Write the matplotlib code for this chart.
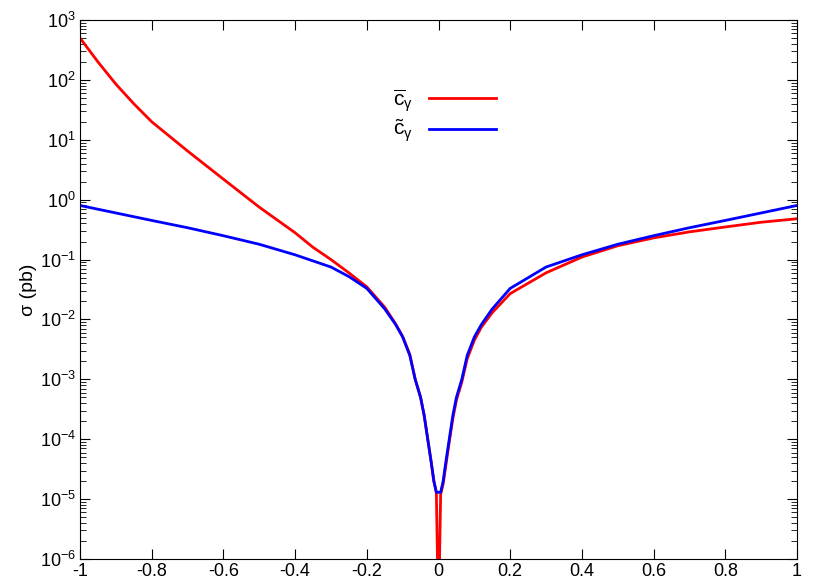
import matplotlib
matplotlib.use("Agg")
import matplotlib.pyplot as plt
import numpy as np

plt.rcParams['font.family'] = 'Liberation Sans'
plt.rcParams['mathtext.fontset'] = 'custom'
plt.rcParams['mathtext.rm'] = 'Liberation Sans'
plt.rcParams['mathtext.it'] = 'Liberation Sans'

x_red = [-1,-0.95,-0.9,-0.85,-0.8,-0.7,-0.6,-0.5,-0.4,-0.35,-0.3,-0.25,-0.2,-0.15,-0.12,-0.1,-0.08,-0.065,-0.05,-0.04,-0.03,-0.02,-0.013,-0.006,0,
         0.006,0.013,0.02,0.03,0.04,0.05,0.065,0.08,0.1,0.12,0.15,0.2,0.3,0.4,0.5,0.6,0.7,0.8,0.9,1]
y_red = [500,200,85,40,20,6.5,2.2,0.75,0.28,0.16,0.1,0.06,0.035,0.016,0.0085,0.0052,0.0026,0.001,5e-4,2.5e-4,1e-4,4e-5,2e-5,1.3e-5,1e-7,
         1.2e-5,1.8e-5,3.5e-5,9e-5,2.2e-4,4.5e-4,9e-4,0.0022,0.0045,0.0075,0.013,0.027,0.06,0.11,0.17,0.23,0.29,0.35,0.42,0.48]
x_blue = [-1,-0.9,-0.8,-0.7,-0.6,-0.5,-0.4,-0.3,-0.25,-0.2,-0.15,-0.12,-0.1,-0.08,-0.065,-0.05,-0.04,-0.03,-0.02,-0.013,-0.006,
          0.006,0.013,0.02,0.03,0.04,0.05,0.065,0.08,0.1,0.12,0.15,0.2,0.3,0.4,0.5,0.6,0.7,0.8,0.9,1]
y_blue = [0.8,0.6,0.45,0.34,0.25,0.18,0.12,0.075,0.052,0.033,0.015,0.0083,0.0051,0.0025,0.001,5e-4,2.5e-4,1e-4,4e-5,2e-5,1.3e-5,
          1.3e-5,2e-5,4e-5,1e-4,2.5e-4,5e-4,0.001,0.0025,0.0051,0.0083,0.015,0.033,0.075,0.12,0.18,0.25,0.34,0.45,0.6,0.8]
xticks = [-1,-0.8,-0.6,-0.4,-0.2,0,0.2,0.4,0.6,0.8,1]
xticklabels = ['-1','-0.8','-0.6','-0.4','-0.2','0','0.2','0.4','0.6','0.8','1']

fig = plt.figure(figsize=(8.3,5.81), dpi=100)
ax = fig.add_axes([80/830, 22/581, 717/830, 539/581])
ax.plot(x_red, y_red, color='#ff0000', lw=2, label=r'$\overline{\mathrm{c}}_{\mathrm{γ}}$')
ax.plot(x_blue, y_blue, color='#0000ff', lw=2, label=r'$\tilde{\mathrm{c}}_{\mathrm{γ}}$')
ax.set_yscale('log')
ax.set_xlim(-1,1)
ax.set_ylim(1e-6,1e3)
ax.set_xticks(xticks)
ax.set_xticklabels(xticklabels)
ax.xaxis.set_minor_locator(matplotlib.ticker.NullLocator())
ax.yaxis.set_minor_locator(matplotlib.ticker.LogLocator(subs=np.arange(2,10), numticks=20))
ax.yaxis.set_minor_formatter(matplotlib.ticker.NullFormatter())
ax.tick_params(which='both', direction='in', top=True, right=True, labelsize=13, pad=3)
ax.tick_params(which='major', length=7)
ax.tick_params(which='minor', length=4)
ax.set_xlabel('Couplings', fontsize=14, labelpad=1)
ax.set_ylabel('σ (pb)', fontsize=14, labelpad=2)
ax.legend(loc='upper left', bbox_to_anchor=(0.41, 0.91), frameon=False, markerfirst=False,
          fontsize=15, handlelength=3.2, labelspacing=0.2)
fig.savefig('out.png', dpi=100)
